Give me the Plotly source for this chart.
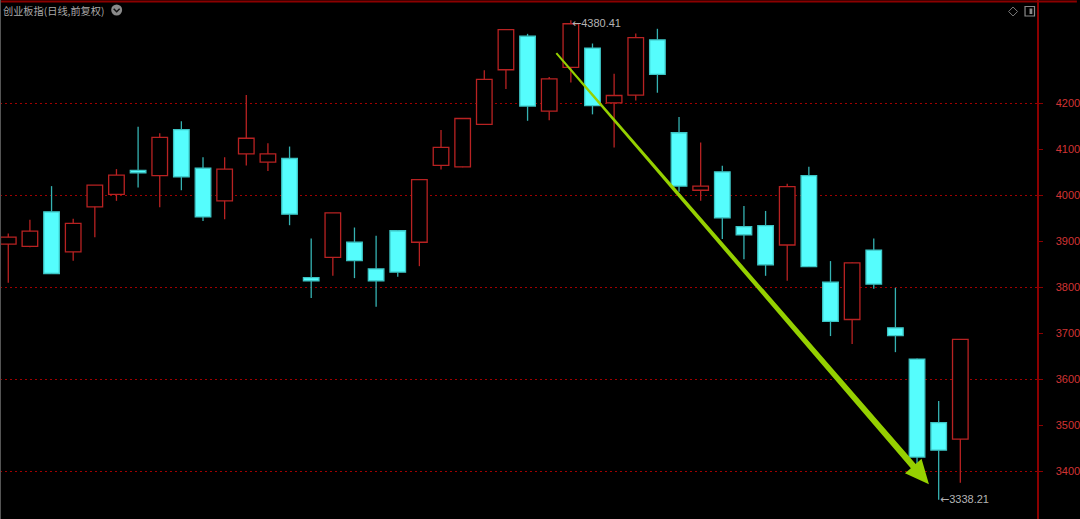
import plotly.graph_objects as go

# ---------------- data ----------------
title_text = "创业板指(日线,前复权)"
opens = [3894, 3889, 3964, 3877, 3975, 4002, 4054, 4043, 4143, 4059, 3988, 4090, 4072, 4080, 3821,
         3865, 3898, 3840, 3923, 3898, 4065, 4062, 4154, 4273, 4346, 4183, 4278, 4320, 4201, 4218,
         4338, 4136, 4011, 4051, 3932, 3934, 3892, 4043, 3811, 3730, 3881, 3712, 3644, 3506, 3470]
highs = [3917, 3947, 4020, 3949, 4022, 4057, 4149, 4135, 4161, 4083, 4083, 4218, 4113, 4106, 3906,
         3962, 3930, 3912, 3924, 4034, 4142, 4168, 4272, 4360, 4351, 4257, 4380.41, 4330, 4264, 4352,
         4362, 4170, 4115, 4064, 3977, 3966, 4025, 4062, 3857, 3854, 3906, 3799, 3645, 3553, 3687]
lows = [3810, 3887, 3829, 3858, 3909, 3988, 4017, 3974, 4011, 3944, 3948, 4065, 4053, 3935, 3777,
        3825, 3820, 3758, 3823, 3846, 4056, 4061, 4153, 4231, 4162, 4163, 4245, 4176, 4104, 4206,
        4223, 4008, 3988, 3905, 3861, 3825, 3814, 3844, 3694, 3677, 3797, 3659, 3414, 3338.21, 3375]
closes = [3909, 3922, 3830, 3939, 4022, 4044, 4049, 4126, 4040, 3953, 4057, 4124, 4090, 3959, 3814,
          3962, 3858, 3814, 3833, 4034, 4104, 4167, 4252, 4360, 4194, 4253, 4373, 4195, 4217, 4343,
          4263, 4020, 4020, 3951, 3914, 3849, 4019, 3845, 3726, 3853, 3807, 3695, 3431, 3446, 3687]
y_ticks = [3400, 3500, 3600, 3700, 3800, 3900, 4000, 4100, 4200]
grid_levels = [3400, 3600, 3800, 4000, 4200]
trend_from = (25.33, 4309)   # (bar index, price)
trend_to = (42.55, 3372)

# ---------------- style ----------------
W, H = 1080, 519
PLOT_W = 1040
X_RANGE = [-0.3825, 47.544]
Y_RANGE = [3296.3, 4424.6]
RED = "#b82222"
RED_TXT = "#d03434"
AXIS_RED = "#8b0000"
GRID_RED = "#a00000"
CYAN = "#55fdfd"
CYAN_EDGE = "#3cc4c4"
CYAN_WICK = "#35b2b2"
GREEN = "#95d000"
GRAY_TXT = "#a9a9a9"

idx = list(range(len(opens)))
is_up = [c >= o for o, c in zip(opens, closes)]

fig = go.Figure()

# wicks (split above / below the body so they never cross a body)
def wick_xy(up_flag):
    xs, ys = [], []
    for i, o, h, l, c, u in zip(idx, opens, highs, lows, closes, is_up):
        if u != up_flag:
            continue
        top, bot = max(o, c), min(o, c)
        if h > top:
            xs += [i, i, None]
            ys += [top, h, None]
        if l < bot:
            xs += [i, i, None]
            ys += [bot, l, None]
    return xs, ys

for flag, col in [(True, RED), (False, CYAN_WICK)]:
    wx, wy = wick_xy(flag)
    fig.add_trace(go.Scatter(x=wx, y=wy, mode="lines", line=dict(color=col, width=1.3),
                             hoverinfo="skip", showlegend=False))

# bodies
fig.add_trace(go.Bar(
    x=idx,
    base=[min(o, c) for o, c in zip(opens, closes)],
    y=[max(abs(c - o), 0.8) for o, c in zip(opens, closes)],
    width=0.72,
    marker=dict(color=["#000000" if u else CYAN for u in is_up],
                line=dict(color=[RED if u else CYAN_EDGE for u in is_up], width=1.3)),
    hoverinfo="skip", showlegend=False,
))

# dummy trace for grid axis
fig.add_trace(go.Scatter(x=[None], y=[None], yaxis="y2", showlegend=False, hoverinfo="skip"))

# ---------------- tapered trend arrow ----------------
sx = PLOT_W / (X_RANGE[1] - X_RANGE[0])
sy = H / (Y_RANGE[1] - Y_RANGE[0])

def to_px(pt):
    return ((pt[0] - X_RANGE[0]) * sx, (Y_RANGE[1] - pt[1]) * sy)

def to_data(p):
    return (X_RANGE[0] + p[0] / sx, Y_RANGE[1] - p[1] / sy)

S = to_px(trend_from)
T = to_px(trend_to)
dx, dy = T[0] - S[0], T[1] - S[1]
ln = (dx ** 2 + dy ** 2) ** 0.5
ux, uy = dx / ln, dy / ln
nx, ny = -uy, ux
head_len, head_half, shaft_start, shaft_end = 24, 11, 1.0, 3.2
B = (T[0] - ux * head_len, T[1] - uy * head_len)
pts_px = [
    (S[0] + nx * shaft_start, S[1] + ny * shaft_start),
    (B[0] + nx * shaft_end, B[1] + ny * shaft_end),
    (B[0] + nx * head_half, B[1] + ny * head_half),
    T,
    (B[0] - nx * head_half, B[1] - ny * head_half),
    (B[0] - nx * shaft_end, B[1] - ny * shaft_end),
    (S[0] - nx * shaft_start, S[1] - ny * shaft_start),
]
pts = [to_data(p) for p in pts_px]
path = "M " + " L ".join(f"{x:.4f},{y:.3f}" for x, y in pts) + " Z"

shapes = [
    dict(type="path", xref="x", yref="y", path=path, fillcolor=GREEN, line=dict(width=0), layer="above"),
]

# chrome: top red line, left gray line
shapes.append(dict(type="line", xref="paper", yref="paper", x0=0, x1=W / PLOT_W,
                   y0=1 - 1.5 / H, y1=1 - 1.5 / H, line=dict(color=AXIS_RED, width=2)))
shapes.append(dict(type="line", xref="paper", yref="paper", x0=0.5 / PLOT_W, x1=0.5 / PLOT_W,
                   y0=0, y1=1, line=dict(color="#555555", width=1)))

def pp(px, py):
    return px / PLOT_W, 1 - py / H

# dropdown circle icon next to title
c0, c1 = pp(111.5, 15.5), pp(122.5, 4.5)
shapes.append(dict(type="circle", xref="paper", yref="paper", x0=c0[0], y0=c0[1], x1=c1[0], y1=c1[1],
                   fillcolor="#8a8a8a", line=dict(width=0)))
a, b, c = pp(114, 8.8), pp(117, 11.8), pp(120, 8.8)
shapes.append(dict(type="path", xref="paper", yref="paper",
                   path=f"M {a[0]},{a[1]} L {b[0]},{b[1]} L {c[0]},{c[1]}",
                   line=dict(color="#111111", width=1.5)))
# top-right icons
d = [pp(1016, 7), pp(1020.5, 11.5), pp(1016, 16), pp(1011.5, 11.5)]
shapes.append(dict(type="path", xref="paper", yref="paper",
                   path="M " + " L ".join(f"{x},{y}" for x, y in d) + " Z",
                   line=dict(color="#7a7a7a", width=1)))
r0, r1 = pp(1028, 16), pp(1037.5, 6.5)
shapes.append(dict(type="rect", xref="paper", yref="paper", x0=r0[0], y0=r0[1], x1=r1[0], y1=r1[1],
                   line=dict(color="#8a8a8a", width=1.2)))
q0, q1 = pp(1032.5, 14), pp(1035.3, 8.5)
shapes.append(dict(type="rect", xref="paper", yref="paper", x0=q0[0], y0=q0[1], x1=q1[0], y1=q1[1],
                   fillcolor="#8a8a8a", line=dict(width=0)))

# ---------------- annotations ----------------
hi_i = max(idx, key=lambda i: highs[i])
lo_i = min(idx, key=lambda i: lows[i])
ARROW = "<span style='font-family:DejaVu Sans'>\u2190</span>"
annotations = [
    dict(xref="paper", yref="paper", x=pp(1, 0)[0], y=pp(0, 11)[1], xanchor="left", yanchor="middle",
         text=title_text, showarrow=False,
         font=dict(family="Noto Sans CJK SC", size=10.2, color=GRAY_TXT)),
    dict(x=hi_i, y=highs[hi_i], xref="x", yref="y", xanchor="left", yanchor="middle", yshift=-3,
         xshift=-1, text=ARROW + f"{highs[hi_i]:.2f}", showarrow=False,
         font=dict(family="Liberation Sans, Arial", size=11, color="#b4b4b4")),
    dict(x=lo_i, y=lows[lo_i], xref="x", yref="y", xanchor="left", yanchor="middle", yshift=0,
         xshift=-1, text=ARROW + f"{lows[lo_i]:.2f}", showarrow=False,
         font=dict(family="Liberation Sans, Arial", size=11, color="#b4b4b4")),
]

fig.update_layout(
    width=W, height=H,
    margin=dict(l=0, r=W - PLOT_W, t=0, b=0, pad=0),
    paper_bgcolor="#000000", plot_bgcolor="#000000",
    barmode="overlay", bargap=0,
    showlegend=False,
    xaxis=dict(range=X_RANGE, visible=False, fixedrange=True),
    yaxis=dict(range=Y_RANGE, side="right", tickvals=y_ticks, ticks="outside", ticklen=4,
               tickcolor=AXIS_RED, tickwidth=1, showline=True, linecolor=AXIS_RED, linewidth=1.5,
               showgrid=False, zeroline=False, ticklabelstandoff=11,
               tickfont=dict(family="Liberation Sans, Arial", size=11, color=RED_TXT), fixedrange=True),
    yaxis2=dict(range=Y_RANGE, overlaying="y", side="right", tickvals=grid_levels, showgrid=True,
                gridcolor=GRID_RED, griddash="2px,3px", gridwidth=1, showticklabels=False, ticks="",
                showline=False, zeroline=False, fixedrange=True),
    shapes=shapes,
    annotations=annotations,
)

fig.write_html("out.html", config={"displayModeBar": False, "staticPlot": True},
               post_script="document.body.style.margin='0';document.body.style.overflow='hidden';")
